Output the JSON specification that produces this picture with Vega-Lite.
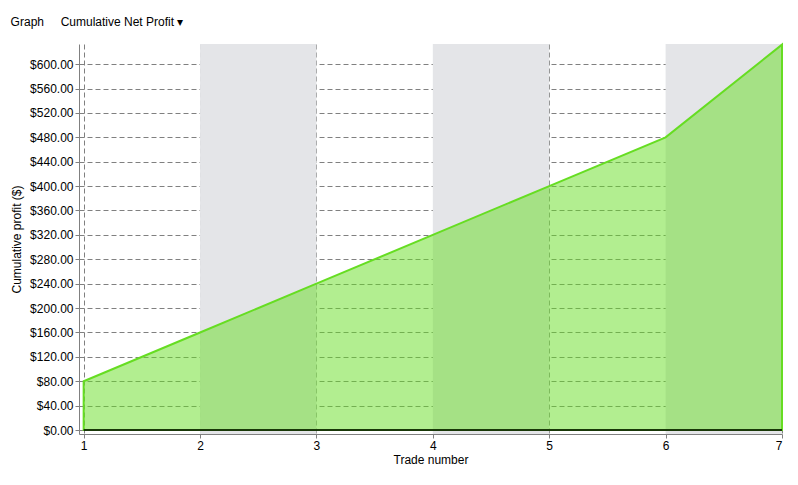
{
  "$schema": "https://vega.github.io/schema/vega-lite/v6.json",
  "width": 703,
  "height": 390,
  "autosize": "none",
  "padding": {"left": 79, "top": 44, "right": 16, "bottom": 51},
  "background": "white",
  "title": {
    "text": "Graph\u00a0\u00a0\u00a0\u00a0\u00a0Cumulative Net Profit ▾",
    "anchor": "start",
    "frame": "bounds",
    "font": "Liberation Sans",
    "fontSize": 12,
    "fontWeight": "normal",
    "color": "#000000",
    "offset": 12
  },
  "config": {
    "view": {"stroke": null},
    "font": "Liberation Sans",
    "axis": {
      "labelFont": "Liberation Sans",
      "labelFontSize": 12,
      "labelColor": "#000000",
      "labelOverlap": false,
      "titleFont": "Liberation Sans",
      "titleFontSize": 12,
      "titleFontWeight": "normal",
      "titleColor": "#000000",
      "domainColor": "#808080",
      "tickColor": "#808080",
      "tickSize": 4,
      "gridColor": "#808080",
      "gridDash": [5, 3],
      "gridWidth": 1,
      "gridOpacity": 1
    }
  },
  "datasets": {
    "trades": [
      {"trade": 1, "profit": 80},
      {"trade": 2, "profit": 160},
      {"trade": 3, "profit": 240},
      {"trade": 4, "profit": 320},
      {"trade": 5, "profit": 400},
      {"trade": 6, "profit": 480},
      {"trade": 7, "profit": 632}
    ],
    "bands": [
      {"start": 2, "end": 3},
      {"start": 4, "end": 5},
      {"start": 6, "end": 7}
    ],
    "baseline": [
      {"from": 1, "to": 7, "level": 0}
    ]
  },
  "layer": [
    {
      "data": {"name": "bands"},
      "mark": {"type": "rect", "color": "#e4e5e8", "opacity": 1},
      "encoding": {
        "x": {
          "field": "start",
          "type": "quantitative",
          "scale": {"domain": [0.96, 7], "nice": false, "zero": false},
          "axis": {
            "values": [1, 2, 3, 4, 5, 6, 7],
            "format": "d",
            "title": "Trade number",
            "grid": true,
            "labelPadding": 2,
            "titlePadding": 3
          }
        },
        "x2": {"field": "end"}
      }
    },
    {
      "data": {"name": "trades"},
      "mark": {
        "type": "area",
        "color": "#66dd22",
        "fillOpacity": 0.5,
        "stroke": "#66dd22",
        "strokeWidth": 2,
        "strokeJoin": "miter"
      },
      "encoding": {
        "x": {"field": "trade", "type": "quantitative"},
        "y": {
          "field": "profit",
          "type": "quantitative",
          "scale": {"domain": [-6.5, 633], "nice": false, "zero": false},
          "axis": {
            "values": [0, 40, 80, 120, 160, 200, 240, 280, 320, 360, 400, 440, 480, 520, 560, 600],
            "format": "$.2f",
            "title": "Cumulative profit ($)",
            "grid": true,
            "labelPadding": 2,
            "titlePadding": 6
          }
        },
        "y2": {"datum": 0}
      }
    },
    {
      "data": {"name": "baseline"},
      "mark": {"type": "rule", "color": "#000000", "strokeWidth": 1.5},
      "encoding": {
        "x": {
          "field": "from",
          "type": "quantitative",
          "axis": {
            "values": [1, 2, 3, 4, 5, 6, 7],
            "format": "d",
            "title": "Trade number",
            "grid": true,
            "labelPadding": 2,
            "titlePadding": 3
          }
        },
        "x2": {"field": "to"},
        "y": {
          "field": "level",
          "type": "quantitative",
          "axis": {
            "values": [0, 40, 80, 120, 160, 200, 240, 280, 320, 360, 400, 440, 480, 520, 560, 600],
            "format": "$.2f",
            "title": "Cumulative profit ($)",
            "grid": true,
            "labelPadding": 2,
            "titlePadding": 6
          }
        }
      }
    }
  ]
}
